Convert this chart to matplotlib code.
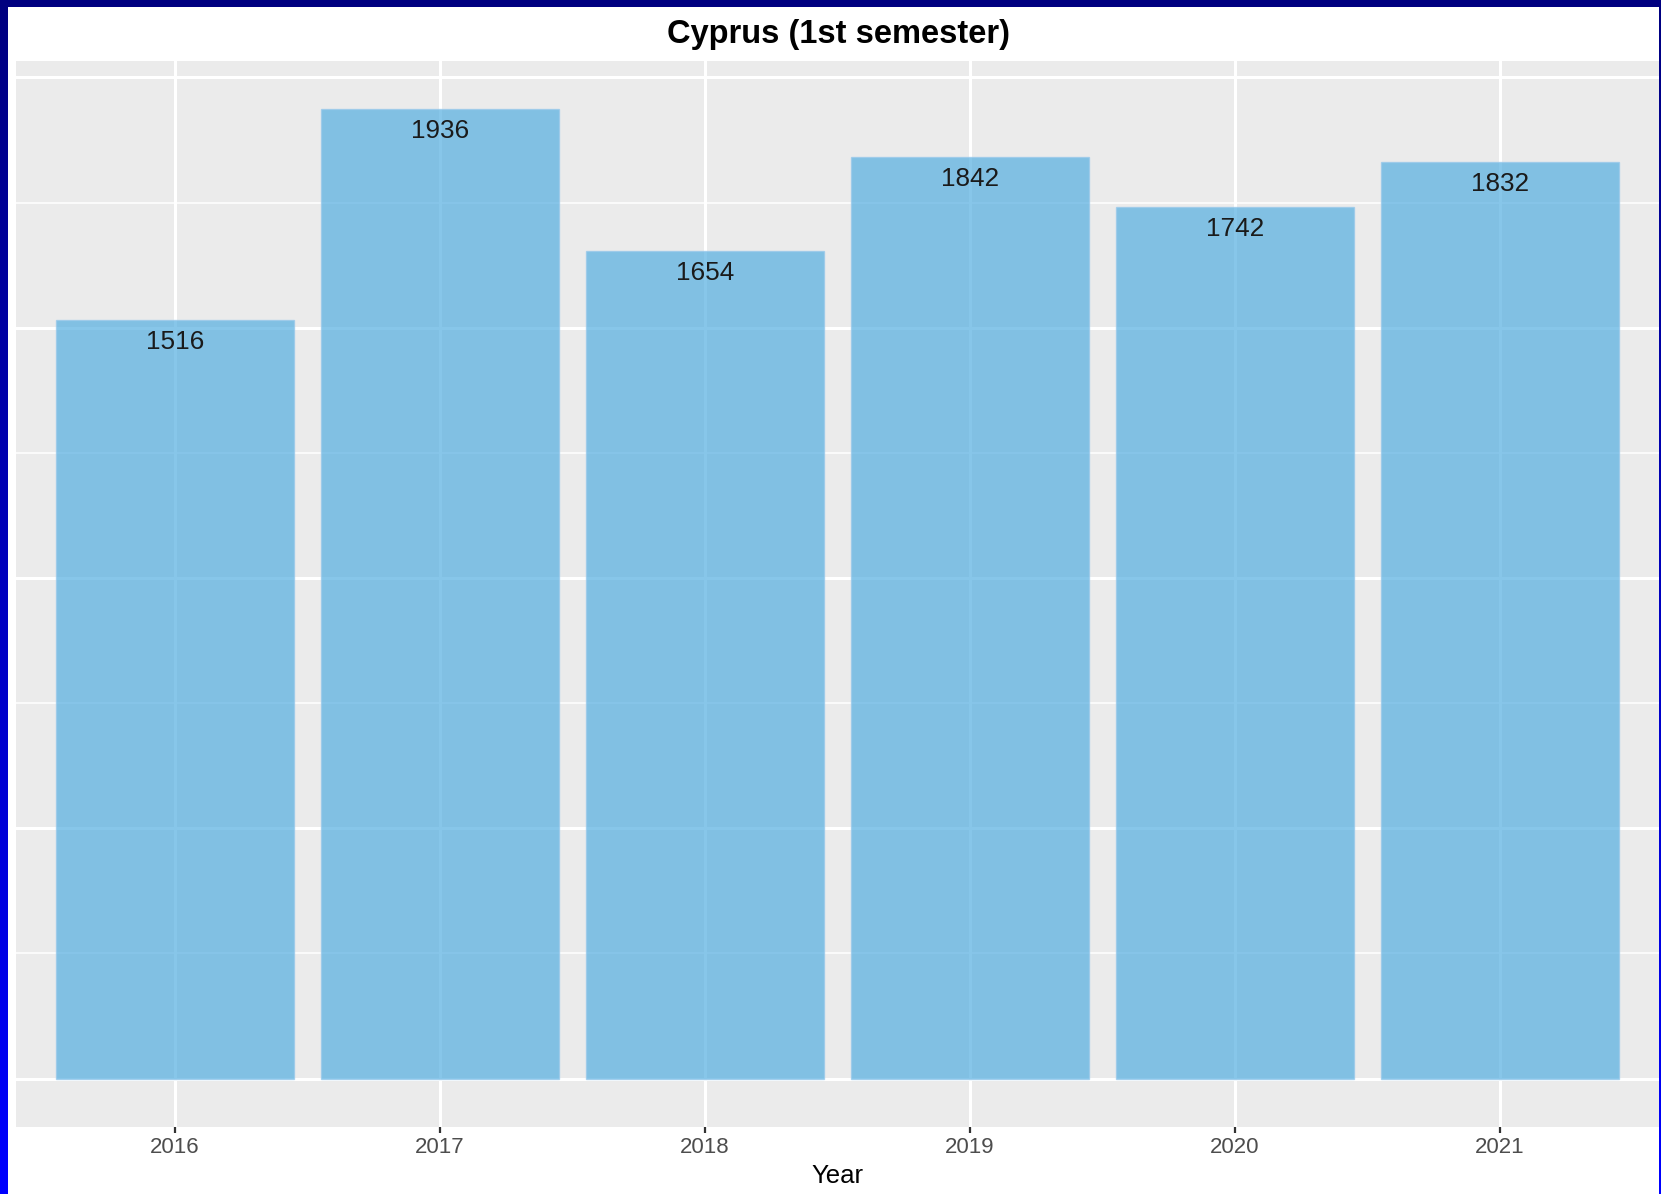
import matplotlib
matplotlib.use("Agg")
import matplotlib.pyplot as plt
import numpy as np
from matplotlib.ticker import MultipleLocator

years = ["2016", "2017", "2018", "2019", "2020", "2021"]
values = [1516, 1936, 1654, 1842, 1742, 1832]
title = "Cyprus (1st semester)"
xlabel = "Year"

plt.rcParams['font.family'] = ['Liberation Sans', 'DejaVu Sans']

W, H = 1661, 1194
fig = plt.figure(figsize=(W / 100, H / 100), dpi=100)
fig.patch.set_facecolor("white")

# panel
left, right, top, bottom = 16, 1659, 61, 1127
ax = fig.add_axes([left / W, 1 - bottom / H, (right - left) / W, (bottom - top) / H])
ax.set_facecolor("#EBEBEB")
for s in ax.spines.values():
    s.set_visible(False)

x = np.arange(len(years))
ax.bar(x, values, width=0.9, color=(85/255, 174/255, 225/255), alpha=0.7,
       edgecolor=(150/255, 200/255, 235/255), linewidth=1.0, zorder=3)
for xi, v in zip(x, values):
    ax.annotate(str(v), (xi, v), xytext=(0, -22), textcoords="offset pixels",
                ha="center", va="center", fontsize=18.8, color="#1a1a1a", zorder=4)

ymax = max(values)
ax.set_ylim(-0.05 * ymax, ymax * 1.05)
ax.set_xlim(-0.6, len(years) - 1 + 0.6)
ax.yaxis.set_major_locator(MultipleLocator(500))
ax.yaxis.set_minor_locator(MultipleLocator(250))
ax.grid(True, which="major", axis="both", color="white", linewidth=2.2, zorder=1)
ax.grid(True, which="minor", axis="y", color="white", linewidth=1.1, zorder=1)
ax.set_axisbelow(True)
ax.tick_params(axis="y", which="both", left=False, labelleft=False)
ax.set_xticks(x)
ax.set_xticklabels(years)
ax.tick_params(axis="x", length=4.5, width=1.6, color="#333333", pad=3,
               labelsize=16, labelcolor="#4D4D4D")
ax.set_xlabel(xlabel, fontsize=18.5, color="black", labelpad=4)

fig.text((W / 2 + 8) / W, 1 - 35 / H, title, ha="center", va="center",
         fontsize=23.5, fontweight="bold", color="black")

# frame: top band, left gradient, right thin band
bax = fig.add_axes([0, 1 - 7 / H, 1, 7 / H])
bax.set_axis_off()
bax.add_patch(plt.Rectangle((0, 0), 1, 1, color="#000080", transform=bax.transAxes))
lax = fig.add_axes([0, 0, 8 / W, 1])
lax.set_axis_off()
grad = np.zeros((256, 1, 3))
t = np.linspace(0, 1, 256)
grad[:, 0, 2] = (128 + 127 * t) / 255
lax.imshow(grad, aspect="auto", extent=[0, 1, 0, 1], origin="upper")
rax = fig.add_axes([1659 / W, 0, 2 / W, 1])
rax.set_axis_off()
grad2 = np.zeros((256, 1, 3))
grad2[:, 0, 2] = (128 + 127 * t) / 255
rax.imshow(grad2, aspect="auto", extent=[0, 1, 0, 1], origin="upper")

fig.savefig("out.png", dpi=100)
